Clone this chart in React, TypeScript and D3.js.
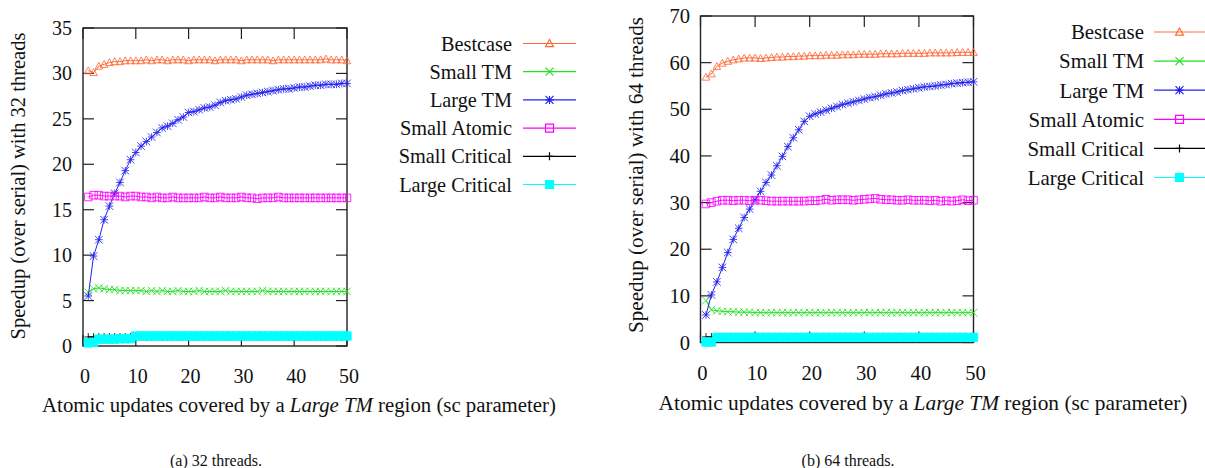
import React, { useEffect, useRef } from "react";
import * as d3 from "d3";

// sc parameter (x) values shared by both panels
const scParam = d3.range(1, 51);

const seriesNames = ["Bestcase", "Small TM", "Large TM", "Small Atomic", "Small Critical", "Large Critical"];
const seriesColors = ["#ff6a3a", "#22e022", "#2222f0", "#ff00ff", "#000000", "#00ffff"];
const seriesMarkers = ["triangle", "cross", "star", "square", "plus", "fsquare"];

// (a) 32 threads
const bestcase32 = [30.3, 30.1, 30.8, 31.0, 31.2, 31.3, 31.3, 31.4, 31.4, 31.4, 31.4, 31.5, 31.4, 31.5, 31.5, 31.4, 31.5, 31.5, 31.5, 31.4,
  31.5, 31.5, 31.5, 31.5, 31.4, 31.5, 31.5, 31.5, 31.5, 31.4, 31.5, 31.5, 31.5, 31.5, 31.5, 31.4, 31.5, 31.5, 31.5, 31.5,
  31.5, 31.5, 31.5, 31.5, 31.5, 31.6, 31.5, 31.5, 31.5, 31.4];
const smallTM32 = [5.9, 6.3, 6.4, 6.3, 6.2, 6.2, 6.1, 6.1, 6.1, 6.1, 6.1, 6.0, 6.1, 6.0, 6.1, 6.0, 6.0, 6.1, 6.0, 6.0,
  6.0, 6.1, 6.0, 6.0, 6.0, 6.0, 6.1, 6.0, 6.0, 6.0, 6.0, 6.0, 6.0, 6.1, 6.0, 6.0, 6.0, 6.0, 6.0, 6.0,
  6.0, 6.0, 6.0, 6.0, 6.0, 6.0, 6.0, 6.0, 6.0, 6.0];
const largeTM32 = [5.5, 9.9, 11.7, 13.9, 15.4, 16.8, 18.0, 19.3, 20.5, 21.3, 22.0, 22.5, 23.0, 23.5, 24.0, 24.2, 24.5, 24.9, 25.2, 25.7,
  25.8, 26.0, 26.2, 26.3, 26.5, 26.8, 27.0, 27.1, 27.2, 27.4, 27.6, 27.7, 27.8, 27.9, 28.0, 28.1, 28.2, 28.3, 28.3, 28.4,
  28.5, 28.5, 28.6, 28.7, 28.7, 28.8, 28.8, 28.8, 28.9, 28.9];
const smallAtomic32 = [16.4, 16.6, 16.6, 16.5, 16.5, 16.5, 16.5, 16.4, 16.5, 16.5, 16.4, 16.4, 16.3, 16.4, 16.3, 16.3, 16.4, 16.3, 16.3, 16.3,
  16.3, 16.3, 16.4, 16.3, 16.3, 16.4, 16.3, 16.3, 16.3, 16.4, 16.3, 16.3, 16.2, 16.3, 16.3, 16.3, 16.4, 16.3, 16.3, 16.3,
  16.3, 16.3, 16.3, 16.3, 16.3, 16.3, 16.3, 16.3, 16.3, 16.3];
const smallCritical32 = [1.0, 1.0, 1.0, 1.0, 1.0, 1.0, 1.0, 1.0, 1.0, 1.0, 1.0, 1.0, 1.0, 1.0, 1.0, 1.0, 1.0, 1.0, 1.0, 1.0,
  1.0, 1.0, 1.0, 1.0, 1.0, 1.0, 1.0, 1.0, 1.0, 1.0, 1.0, 1.0, 1.0, 1.0, 1.0, 1.0, 1.0, 1.0, 1.0, 1.0,
  1.0, 1.0, 1.0, 1.0, 1.0, 1.0, 1.0, 1.0, 1.0, 1.0];
const largeCritical32 = [0.35, 0.4, 0.75, 0.75, 0.75, 0.75, 0.8, 0.8, 0.8, 1.1, 1.1, 1.1, 1.1, 1.1, 1.1, 1.1, 1.1, 1.1, 1.1, 1.1,
  1.1, 1.1, 1.1, 1.1, 1.1, 1.1, 1.1, 1.1, 1.1, 1.1, 1.1, 1.1, 1.1, 1.1, 1.1, 1.1, 1.1, 1.1, 1.1, 1.1,
  1.1, 1.1, 1.1, 1.1, 1.1, 1.1, 1.1, 1.1, 1.1, 1.1];

// (b) 64 threads
const bestcase64 = [56.9, 57.6, 59.2, 59.9, 60.3, 60.6, 60.8, 61.0, 61.0, 61.0, 60.9, 61.0, 61.1, 61.2, 61.2, 61.3, 61.3, 61.4, 61.4, 61.5,
  61.5, 61.5, 61.6, 61.6, 61.6, 61.7, 61.7, 61.7, 61.8, 61.8, 61.8, 61.8, 61.9, 61.9, 61.9, 61.9, 62.0, 62.0, 62.0, 62.0,
  62.0, 62.1, 62.1, 62.1, 62.1, 62.1, 62.2, 62.2, 62.2, 62.2];
const smallTM64 = [9.0, 7.0, 6.8, 6.7, 6.6, 6.6, 6.5, 6.5, 6.5, 6.4, 6.4, 6.4, 6.4, 6.4, 6.4, 6.4, 6.4, 6.4, 6.4, 6.4,
  6.4, 6.4, 6.4, 6.4, 6.4, 6.4, 6.4, 6.4, 6.4, 6.4, 6.4, 6.4, 6.4, 6.4, 6.4, 6.4, 6.4, 6.4, 6.4, 6.4,
  6.4, 6.4, 6.4, 6.4, 6.4, 6.4, 6.4, 6.4, 6.4, 6.4];
const largeTM64 = [5.9, 10.2, 13.0, 16.1, 19.3, 22.1, 24.5, 26.8, 28.6, 30.6, 32.4, 34.3, 35.9, 37.9, 39.9, 42.0, 43.9, 45.6, 47.4, 48.5,
  49.0, 49.4, 49.8, 50.2, 50.6, 51.0, 51.3, 51.6, 51.9, 52.2, 52.5, 52.7, 53.0, 53.3, 53.5, 53.7, 54.0, 54.2, 54.4, 54.6,
  54.8, 54.9, 55.0, 55.2, 55.3, 55.5, 55.6, 55.7, 55.8, 55.9];
const smallAtomic64 = [29.7, 30.0, 30.3, 30.5, 30.5, 30.4, 30.5, 30.5, 30.4, 30.5, 30.5, 30.4, 30.3, 30.3, 30.3, 30.3, 30.3, 30.3, 30.3, 30.4,
  30.4, 30.5, 30.7, 30.5, 30.6, 30.6, 30.6, 30.5, 30.6, 30.7, 30.8, 30.9, 30.7, 30.6, 30.6, 30.5, 30.5, 30.6, 30.5, 30.5,
  30.5, 30.4, 30.5, 30.3, 30.4, 30.3, 30.4, 30.6, 30.4, 30.5];
const smallCritical64 = [1.2, 1.2, 1.2, 1.2, 1.2, 1.2, 1.2, 1.2, 1.2, 1.2, 1.0, 1.0, 1.0, 1.0, 1.0, 1.0, 1.0, 1.0, 1.0, 1.0,
  1.0, 1.0, 1.0, 1.0, 1.0, 1.0, 1.0, 1.0, 1.0, 1.0, 1.0, 1.0, 1.0, 1.0, 1.0, 1.0, 1.0, 1.0, 1.0, 1.0,
  1.0, 1.0, 1.0, 1.0, 1.0, 1.0, 1.0, 1.0, 1.0, 1.0];
const largeCritical64 = [0.1, 0.1, 1.1, 1.1, 1.1, 1.1, 1.1, 1.1, 1.1, 1.1, 1.1, 1.1, 1.1, 1.1, 1.1, 1.1, 1.1, 1.1, 1.1, 1.1,
  1.1, 1.1, 1.1, 1.1, 1.1, 1.1, 1.1, 1.1, 1.1, 1.1, 1.1, 1.1, 1.1, 1.1, 1.1, 1.1, 1.1, 1.1, 1.1, 1.1,
  1.1, 1.1, 1.1, 1.1, 1.1, 1.1, 1.1, 1.1, 1.1, 1.1];

const xTicks = [0, 10, 20, 30, 40, 50];
const yTicks32 = [0, 5, 10, 15, 20, 25, 30, 35];
const yTicks64 = [0, 10, 20, 30, 40, 50, 60, 70];

const FONT = "Liberation Serif, DejaVu Serif, serif";

function markerPath(type, h) {
  const plus = `M${-h},0H${h}M0,${-h}V${h}`;
  const cross = `M${-h},${-h}L${h},${h}M${-h},${h}L${h},${-h}`;
  switch (type) {
    case "triangle": return `M0,${-h}L${h},${h * 0.8}L${-h},${h * 0.8}Z`;
    case "cross": return cross;
    case "star": return cross + plus;
    case "plus": return plus;
    default: return `M${-h},${-h}H${h}V${h}H${-h}Z`;
  }
}

const panels = [
  {
    series: [bestcase32, smallTM32, largeTM32, smallAtomic32, smallCritical32, largeCritical32],
    yTicks: yTicks32, yMax: 35,
    x0: 83, x1: 347, yTop: 28, yBot: 346, fs: 1,
    yTitle: "Speedup (over serial) with 32 threads", yTitleX: 18, yTitleY: 186,
    xTitleX: 299, xTitleY: 412, xTickY: 383, yTickX: 72,
    legTextX: 512, legLine: [523, 576], legY0: 43.5, legStep: 28.2,
    caption: "(a) 32 threads.", captionX: 216,
  },
  {
    series: [bestcase64, smallTM64, largeTM64, smallAtomic64, smallCritical64, largeCritical64],
    yTicks: yTicks64, yMax: 70,
    x0: 700.5, x1: 973.5, yTop: 16, yBot: 342.5, fs: 1.03,
    yTitle: "Speedup (over serial) with 64 threads", yTitleX: 636, yTitleY: 175,
    xTitleX: 923, xTitleY: 410, xTickY: 380, yTickX: 690,
    legTextX: 1144, legLine: [1154, 1205], legY0: 32, legStep: 29.1,
    caption: "(b) 64 threads.", captionX: 848,
  },
];

const App = () => {
  const ref = useRef(null);

  useEffect(() => {
    const svg = d3.select(ref.current);
    svg.selectAll("*").remove();

    panels.forEach(p => {
      const g = svg.append("g").style("font-family", FONT);
      const x = d3.scaleLinear().domain([0, 50]).range([p.x0, p.x1]);
      const y = d3.scaleLinear().domain([0, p.yMax]).range([p.yBot, p.yTop]);
      const tickLen = 11;

      // frame + inward ticks (mirrored)
      g.append("rect")
        .attr("x", p.x0).attr("y", p.yTop)
        .attr("width", p.x1 - p.x0).attr("height", p.yBot - p.yTop)
        .attr("fill", "none").attr("stroke", "#222").attr("stroke-width", 1.4);

      p.yTicks.forEach(t => {
        g.append("line").attr("x1", p.x0).attr("x2", p.x0 + tickLen)
          .attr("y1", y(t)).attr("y2", y(t)).attr("stroke", "#222").attr("stroke-width", 1.2);
        g.append("line").attr("x1", p.x1).attr("x2", p.x1 - tickLen)
          .attr("y1", y(t)).attr("y2", y(t)).attr("stroke", "#222").attr("stroke-width", 1.2);
        g.append("text").attr("x", p.yTickX).attr("y", y(t)).attr("dy", "0.35em")
          .attr("text-anchor", "end").style("font-size", `${20 * p.fs}px`)
          .attr("fill", "#111").text(t);
      });
      xTicks.forEach(t => {
        g.append("line").attr("x1", x(t)).attr("x2", x(t))
          .attr("y1", p.yBot).attr("y2", p.yBot - tickLen).attr("stroke", "#222").attr("stroke-width", 1.2);
        g.append("line").attr("x1", x(t)).attr("x2", x(t))
          .attr("y1", p.yTop).attr("y2", p.yTop + tickLen).attr("stroke", "#222").attr("stroke-width", 1.2);
        g.append("text").attr("x", x(t) + 2).attr("y", p.xTickY)
          .attr("text-anchor", "middle").style("font-size", `${20 * p.fs}px`)
          .attr("fill", "#111").text(t);
      });

      // series
      const line = d3.line().x((d, i) => x(scParam[i])).y(d => y(d));
      p.series.forEach((vals, si) => {
        const c = seriesColors[si];
        g.append("path").datum(vals)
          .attr("fill", "none").attr("stroke", c).attr("stroke-width", 1).attr("d", line);
        g.selectAll(null).data(vals).enter().append("path")
          .attr("transform", (d, i) => `translate(${x(scParam[i])},${y(d)})`)
          .attr("d", markerPath(seriesMarkers[si], si === 5 ? 4.2 : 3.8))
          .attr("fill", seriesMarkers[si] === "fsquare" ? c : "none")
          .attr("stroke", c).attr("stroke-width", 1).attr("stroke-opacity", 0.85);
      });

      // legend
      seriesNames.forEach((name, si) => {
        const ly = p.legY0 + si * p.legStep;
        const c = seriesColors[si];
        g.append("text").attr("x", p.legTextX).attr("y", ly).attr("dy", "0.35em")
          .attr("text-anchor", "end").style("font-size", `${20.3 * p.fs}px`)
          .attr("fill", "#111").text(name);
        g.append("line").attr("x1", p.legLine[0]).attr("x2", p.legLine[1])
          .attr("y1", ly).attr("y2", ly).attr("stroke", c).attr("stroke-width", 1.2);
        const mx = (p.legLine[0] + p.legLine[1]) / 2;
        g.append("path").attr("transform", `translate(${mx},${ly})`)
          .attr("d", markerPath(seriesMarkers[si], 4))
          .attr("fill", seriesMarkers[si] === "fsquare" ? c : "none")
          .attr("stroke", c).attr("stroke-width", 1.2);
      });

      // axis titles
      g.append("text")
        .attr("transform", `translate(${p.yTitleX},${p.yTitleY}) rotate(-90)`)
        .attr("dy", "0.35em").attr("text-anchor", "middle")
        .style("font-size", `${20.5 * p.fs}px`).attr("fill", "#111")
        .text(p.yTitle);

      const xt = g.append("text").attr("x", p.xTitleX).attr("y", p.xTitleY)
        .attr("text-anchor", "middle")
        .style("font-size", `${20.8 * p.fs}px`).attr("fill", "#111");
      xt.append("tspan").text("Atomic updates covered by a ");
      xt.append("tspan").attr("font-style", "italic").text("Large TM");
      xt.append("tspan").text(" region (sc parameter)");

      g.append("text").attr("x", p.captionX).attr("y", 466)
        .attr("text-anchor", "middle")
        .style("font-size", "16px").attr("fill", "#111").text(p.caption);
    });
  }, []);

  return (
    <svg ref={ref} width={1205} height={468}
      style={{ position: "absolute", left: 0, top: 0, background: "#fff" }} />
  );
};

export default App;
